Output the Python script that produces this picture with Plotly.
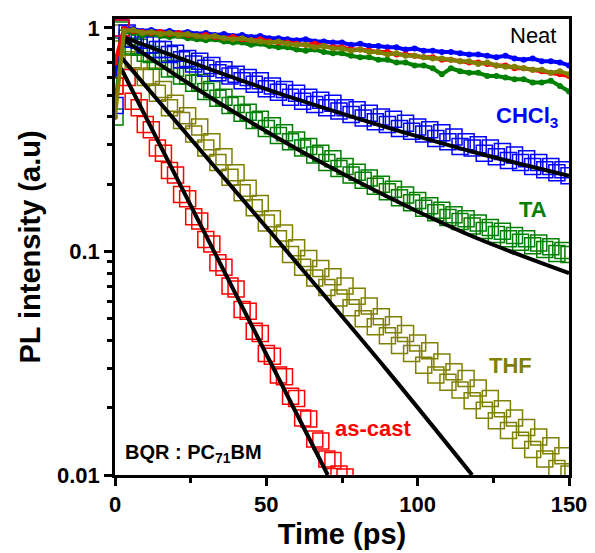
import plotly.graph_objects as go

# ---- data ----
# neat films, sampled every 3 ps
neat_t = list(range(0, 151, 3))
neat_blue = [0.62, 1.00, 0.99, 0.97, 0.98, 0.96, 0.97, 0.95, 0.96, 0.94, 0.95, 0.93, 0.94, 0.92, 0.93, 0.91, 0.92,
             0.90, 0.90, 0.89, 0.88, 0.89, 0.87, 0.87, 0.86, 0.86, 0.84, 0.85, 0.83, 0.83, 0.82, 0.82, 0.80, 0.81,
             0.79, 0.79, 0.78, 0.78, 0.77, 0.76, 0.76, 0.75, 0.74, 0.75, 0.73, 0.72, 0.73, 0.71, 0.71, 0.70, 0.68]
neat_red = [0.70, 0.99, 0.97, 0.96, 0.95, 0.96, 0.94, 0.95, 0.93, 0.92, 0.93, 0.91, 0.90, 0.91, 0.89, 0.88, 0.89,
            0.87, 0.86, 0.86, 0.85, 0.84, 0.85, 0.83, 0.82, 0.82, 0.80, 0.80, 0.79, 0.78, 0.78, 0.76, 0.76, 0.75,
            0.74, 0.74, 0.72, 0.72, 0.71, 0.70, 0.70, 0.69, 0.68, 0.68, 0.66, 0.66, 0.65, 0.64, 0.63, 0.62, 0.61]
neat_olive = [0.40, 0.97, 0.98, 0.95, 0.96, 0.94, 0.95, 0.93, 0.94, 0.92, 0.91, 0.92, 0.90, 0.89, 0.90, 0.88, 0.87,
              0.86, 0.87, 0.85, 0.84, 0.84, 0.82, 0.83, 0.81, 0.81, 0.79, 0.80, 0.78, 0.78, 0.76, 0.77, 0.75, 0.75,
              0.74, 0.73, 0.73, 0.72, 0.71, 0.71, 0.69, 0.70, 0.68, 0.67, 0.67, 0.66, 0.65, 0.65, 0.63, 0.64, 0.62]
neat_green = [0.45, 0.96, 0.95, 0.93, 0.94, 0.92, 0.91, 0.92, 0.90, 0.89, 0.88, 0.89, 0.87, 0.86, 0.86, 0.84, 0.85,
              0.83, 0.82, 0.82, 0.80, 0.79, 0.80, 0.78, 0.77, 0.77, 0.75, 0.74, 0.74, 0.72, 0.72, 0.70, 0.70, 0.68,
              0.68, 0.66, 0.62, 0.66, 0.64, 0.63, 0.63, 0.61, 0.61, 0.60, 0.59, 0.59, 0.57, 0.57, 0.58, 0.55, 0.52]

# blends with PC71BM, sampled every 2 ps
chcl3 = [0.45, 1.00, 0.95, 0.89, 0.88, 0.84, 0.84, 0.80, 0.80, 0.76,
         0.77, 0.72, 0.73, 0.69, 0.71, 0.66, 0.68, 0.63, 0.65, 0.61,
         0.62, 0.58, 0.60, 0.56, 0.58, 0.535, 0.55, 0.515, 0.53, 0.49,
         0.51, 0.47, 0.49, 0.455, 0.475, 0.44, 0.46, 0.425, 0.44, 0.41,
         0.43, 0.395, 0.415, 0.38, 0.40, 0.37, 0.39, 0.355, 0.375, 0.345,
         0.36, 0.335, 0.35, 0.32, 0.34, 0.31, 0.325, 0.295, 0.31, 0.29,
         0.30, 0.275, 0.29, 0.265, 0.28, 0.255, 0.27, 0.25, 0.26, 0.24,
         0.25, 0.232, 0.24, 0.225, 0.232, 0.218]
ta = [0.40, 0.98, 0.90, 0.83, 0.82, 0.77, 0.76, 0.71, 0.71, 0.655,
      0.66, 0.61, 0.61, 0.565, 0.57, 0.52, 0.53, 0.485, 0.49, 0.45,
      0.455, 0.415, 0.42, 0.385, 0.39, 0.355, 0.365, 0.33, 0.34, 0.31,
      0.315, 0.29, 0.295, 0.27, 0.275, 0.25, 0.26, 0.235, 0.24, 0.22,
      0.226, 0.208, 0.213, 0.196, 0.2, 0.185, 0.19, 0.174, 0.179, 0.165,
      0.169, 0.156, 0.16, 0.149, 0.153, 0.142, 0.146, 0.136, 0.14, 0.13,
      0.134, 0.124, 0.128, 0.119, 0.123, 0.114, 0.118, 0.11, 0.114, 0.106,
      0.109, 0.102, 0.105, 0.098, 0.101, 0.097]
thf = [0.55, 0.95, 0.82, 0.72, 0.71, 0.60, 0.61, 0.51, 0.53, 0.44,
       0.46, 0.385, 0.405, 0.335, 0.36, 0.29, 0.31, 0.25, 0.265, 0.215,
       0.225, 0.183, 0.192, 0.157, 0.164, 0.134, 0.14, 0.114, 0.121, 0.097,
       0.104, 0.085, 0.093, 0.076, 0.084, 0.069, 0.077, 0.062, 0.07, 0.056,
       0.063, 0.05, 0.057, 0.046, 0.051, 0.042, 0.047, 0.038, 0.043, 0.035,
       0.039, 0.031, 0.036, 0.028, 0.032, 0.026, 0.029, 0.024, 0.027, 0.0215,
       0.0245, 0.0195, 0.022, 0.0175, 0.0198, 0.0158, 0.018, 0.0143, 0.0163, 0.013,
       0.0148, 0.0118, 0.0135, 0.0107, 0.0122, 0.0101]
as_cast = [0.55, 1.0, 0.60, 0.47, 0.44, 0.37, 0.35, 0.29, 0.275, 0.23,
           0.22, 0.18, 0.172, 0.143, 0.137, 0.113, 0.108, 0.089, 0.085, 0.07,
           0.068, 0.055, 0.054, 0.044, 0.043, 0.035, 0.034, 0.028, 0.0275, 0.0225,
           0.022, 0.018, 0.0178, 0.0145, 0.0142, 0.0118, 0.0116, 0.0101, 0.0098]

# fitted decays
fit_chcl3_t = [2, 20, 40, 60, 80, 100, 120, 150]
fit_chcl3 = [0.92, 0.744, 0.594, 0.48, 0.394, 0.327, 0.275, 0.218]
fit_ta_t = [2, 20, 40, 60, 80, 100, 120, 150]
fit_ta = [0.90, 0.616, 0.415, 0.288, 0.206, 0.151, 0.114, 0.080]
fit_thf_t = [2, 30, 60, 90, 118]
fit_thf = [0.74, 0.266, 0.089, 0.0293, 0.0100]
fit_cast_t = [2, 35, 70.3]
fit_cast = [0.66, 0.087, 0.010]

BLUE, RED, GREEN, OLIVE = "#0000ff", "#ff0000", "#008000", "#808000"
FONT = "Liberation Sans, Arial, sans-serif"

fig = go.Figure()

# open-square decays
for vals, col in [(thf, OLIVE), (ta, GREEN), (chcl3, BLUE), (as_cast, RED)]:
    t = [2 * i for i in range(len(vals))]
    fig.add_trace(go.Scatter(x=t, y=vals, mode="markers",
                             marker=dict(symbol="square-open", size=16, color=col,
                                         line=dict(width=1.5, color=col))))

# fits
for ft, fv in [(fit_chcl3_t, fit_chcl3), (fit_ta_t, fit_ta), (fit_thf_t, fit_thf), (fit_cast_t, fit_cast)]:
    fig.add_trace(go.Scatter(x=ft, y=fv, mode="lines", line=dict(color="black", width=4, shape="spline")))

# neat films
for vals, col in [(neat_blue, BLUE), (neat_green, GREEN), (neat_red, RED), (neat_olive, OLIVE)]:
    fig.add_trace(go.Scatter(x=neat_t, y=vals, mode="lines+markers",
                             line=dict(color=col, width=4),
                             marker=dict(symbol="circle", size=6, color=col)))

labels = [
    ("Neat", 138, -0.036, "black", "normal", 22),
    ("CHCl<sub>3</sub>", 136, -0.40, BLUE, "bold", 22),
    ("TA", 138, -0.813, GREEN, "bold", 22),
    ("THF", 130.7, -1.511, OLIVE, "bold", 22),
    ("as-cast", 85.3, -1.791, RED, "bold", 22),
    ("BQR : PC<sub>71</sub>BM", 26, -1.905, "black", "bold", 20),
]
for txt, x, y, col, w, s in labels:
    fig.add_annotation(x=x, y=y, xref="x", yref="y", text=txt, showarrow=False,
                       font=dict(family=FONT, size=s, color=col, weight=w))

axis_common = dict(showline=True, linewidth=2.5, linecolor="black", mirror=True, showgrid=False,
                   zeroline=False, ticks="outside", ticklen=8, tickwidth=2.5, tickcolor="black",
                   tickfont=dict(family=FONT, size=22, color="black", weight="bold"))

fig.update_xaxes(range=[0, 150], tickvals=[0, 50, 100, 150],
                 minor=dict(dtick=25, tick0=0, ticks="outside", ticklen=5, tickwidth=2.5, tickcolor="black"),
                 title=dict(text="Time (ps)", font=dict(family=FONT, size=29, color="black", weight="bold"),
                            standoff=8),
                 **axis_common)
fig.update_yaxes(type="log", range=[-2, 0.04], tickvals=[0.01, 0.1, 1], ticktext=["0.01", "0.1", "1"],
                 minor=dict(ticks="outside", ticklen=5, tickwidth=2.5, tickcolor="black", dtick="D1"),
                 title=dict(text="PL intensity (a.u)",
                            font=dict(family=FONT, size=29, color="black", weight="bold"), standoff=8),
                 **axis_common)

# the page body adds an 8 px offset, so the figure is 8 px smaller on each side
fig.update_layout(width=587, height=545, showlegend=False,
                  margin=dict(l=107, r=21, t=8, b=78),
                  plot_bgcolor="white", paper_bgcolor="white")

fig.write_html("out.html")
